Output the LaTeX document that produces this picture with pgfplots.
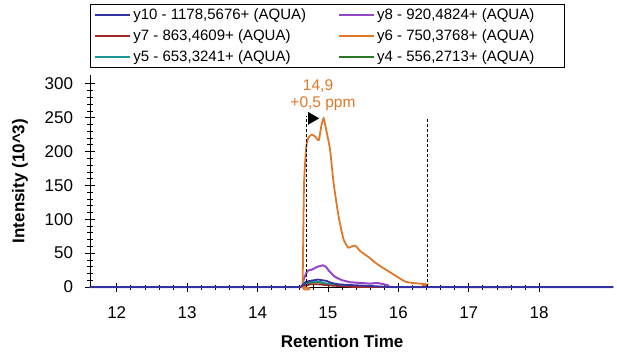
\documentclass[border=0pt]{standalone}
\usepackage{pgfplots}
\pgfplotsset{compat=1.18}
\usepackage{fontspec}
\setmainfont{Liberation Sans}
\definecolor{cy10}{RGB}{50,50,160}
\definecolor{cy8}{RGB}{150,70,200}
\definecolor{cy7}{RGB}{160,40,40}
\definecolor{cy6}{RGB}{225,120,40}
\definecolor{cy5}{RGB}{30,150,150}
\definecolor{cy4}{RGB}{40,120,40}
\begin{document}
\begin{tikzpicture}
\begin{axis}[
  at={(90pt,67pt)}, anchor=south west,
  scale only axis, width=523pt, height=212pt,
  xmin=11.62, xmax=19.05, ymin=0, ymax=313,
  axis lines=left, axis line style={-, black, line width=0.8pt},
  xtick={12,...,18}, ytick={0,50,...,300},
  minor x tick num=4, minor y tick num=4,
  tick align=center, major tick length=9pt, minor tick length=5pt,
  tick style={black, line width=0.7pt},
  ticklabel style={font=\fontsize{17}{20}\selectfont},
  /pgf/number format/assume math mode=true,
  yticklabel style={xshift=-9pt},
  xticklabel style={yshift=-12pt},
  xlabel={Retention Time}, ylabel={Intensity (10\textasciicircum 3)},
  every axis x label/.style={at={(axis description cs:0.482,0)}, yshift=-54pt, anchor=center, font=\fontsize{17}{20}\selectfont\bfseries},
  every axis y label/.style={at={(axis description cs:0,0.5)}, xshift=-70pt, rotate=90, anchor=center, font=\fontsize{17}{20}\selectfont\bfseries},
  clip=false,
  legend columns=2,
  legend style={at={(axis description cs:0,1.335)}, anchor=north west,
    font=\fontsize{15}{17}\selectfont, draw=black, line width=0.8pt,
    inner xsep=4pt, inner ysep=2.5pt, row sep=4.5pt},
  legend cell align=left,
  /tikz/every even column/.append style={column sep=30pt},
  legend image code/.code={\draw[#1, line width=2pt] (0pt,0pt) -- (35pt,0pt);},
]
\addlegendimage{cy10}\addlegendentry{y10 - 1178,5676+ (AQUA)}
\addlegendimage{cy8}\addlegendentry{y8 - 920,4824+ (AQUA)\hspace{24pt}\mbox{}}
\addlegendimage{cy7}\addlegendentry{y7 - 863,4609+ (AQUA)}
\addlegendimage{cy6}\addlegendentry{y6 - 750,3768+ (AQUA)}
\addlegendimage{cy5}\addlegendentry{y5 - 653,3241+ (AQUA)}
\addlegendimage{cy4}\addlegendentry{y4 - 556,2713+ (AQUA)}

% y4
\addplot[forget plot, cy4, line width=1.6pt] coordinates {
(11.62,0)(14.62,0)(14.67,3)(14.75,6)(14.83,7)(14.9,6)(15.0,4)(15.15,2)(15.35,1)(15.5,0)(19.05,0)};
% y5
\addplot[forget plot, cy5, line width=1.6pt] coordinates {
(11.62,0)(14.62,0)(14.66,4)(14.72,7)(14.80,8)(14.88,8)(14.95,6)(15.05,4)(15.2,2)(15.4,1)(15.6,0)(19.05,0)};
% y7
\addplot[forget plot, cy7, line width=1.6pt] coordinates {
(11.62,0)(14.62,0)(14.68,2)(14.76,4)(14.85,4)(14.95,3)(15.05,2)(15.2,1)(15.35,0)(19.05,0)};
% y8
\addplot[forget plot, cy8, line width=2pt] coordinates {
(11.62,0)(14.63,0)(14.66,13)(14.71,24)(14.78,26)(14.85,30)(14.93,32)(14.97,30)(15.03,22)(15.10,15)(15.20,10)(15.32,7)(15.46,6)(15.60,5)(15.70,6)(15.84,3)(15.88,0)(19.05,0)};
% y6
\addplot[forget plot, cy6, line width=1.8pt, smooth, tension=0.3] coordinates {
(11.62,0)(14.62,0)(14.64,2)(14.66,150)(14.69,205)(14.72,220)(14.77,225)(14.82,222)(14.87,217)(14.91,240)(14.94,249)(14.97,235)(15.03,203)(15.08,154)(15.15,105)(15.22,71)(15.29,58)(15.34,60)(15.39,61)(15.46,53)(15.58,44)(15.66,37)(15.74,31)(15.88,22)(16.00,14)(16.10,8)(16.20,6)(16.30,5)(16.40,4)(16.45,0)(19.05,0)};
% y10
\addplot[forget plot, cy10, line width=1.8pt] coordinates {
(11.62,0)(14.60,0)(14.64,2)(14.68,7)(14.74,9)(14.80,10)(14.86,11)(14.92,10)(14.98,9)(15.05,6)(15.15,4)(15.3,3)(15.5,2)(15.7,1)(15.85,0)(19.05,0)};

% integration boundaries
\addplot[forget plot, black, densely dashed, line width=0.8pt] coordinates {(14.70,0)(14.70,252)};
\addplot[forget plot, black, densely dashed, line width=0.8pt] coordinates {(16.42,0)(16.42,250)};
% apex flag
\addplot[forget plot, only marks, mark=triangle*, mark size=7pt, mark options={rotate=-90, fill=black, draw=black}] coordinates {(14.77,249)};

\node[color=cy6, font=\fontsize{15.5}{17}\selectfont] at (axis cs:14.86,296) {14,9};
\node[color=cy6, font=\fontsize{15.5}{17}\selectfont] at (axis cs:14.93,270) {+0,5 ppm};
\end{axis}
\pgfresetboundingbox
\path (0pt,0pt) rectangle (617pt,354pt);
\end{tikzpicture}
\end{document}
